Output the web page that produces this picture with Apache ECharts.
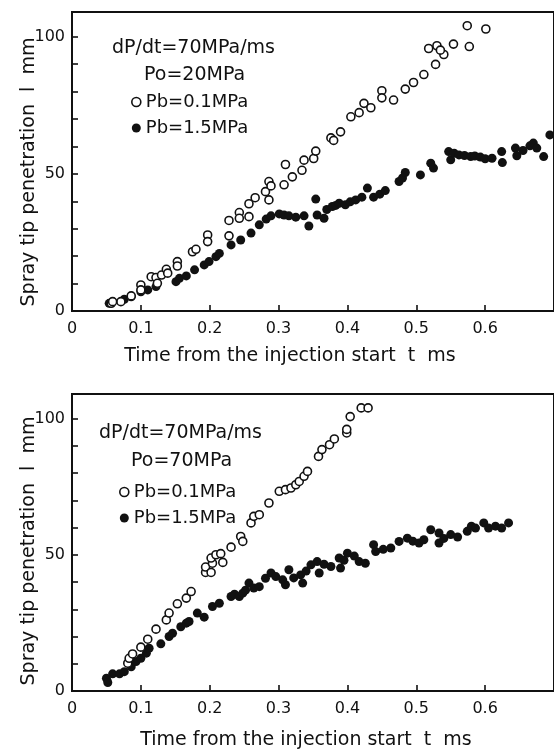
<!DOCTYPE html>
<html>
<head>
<meta charset="utf-8">
<script src="https://cdn.jsdelivr.net/npm/echarts@6/dist/echarts.min.js"></script>
<style>
html,body{margin:0;padding:0;background:#fff;}
#chart{width:554px;height:755px;}
</style>
</head>
<body>
<div id="chart"></div>
<script>
// ---- data (t [ms], penetration [mm]) ----
const topOpen = [[0.057,2.8],[0.071,3.4],[0.059,3.4],[0.086,5.5],[0.100,9.5],[0.100,7.7],[0.115,12.5],[0.122,12.2],[0.124,10.1],[0.130,13.1],[0.137,15.2],[0.139,13.8],[0.153,18.0],[0.153,16.4],[0.175,21.6],[0.180,22.5],[0.197,27.7],[0.197,25.3],[0.228,33.0],[0.228,27.4],[0.243,35.9],[0.243,33.8],[0.257,34.4],[0.257,39.1],[0.266,41.3],[0.281,43.5],[0.286,47.2],[0.289,45.6],[0.286,40.5],[0.308,46.0],[0.310,53.4],[0.320,48.9],[0.334,51.3],[0.337,55.0],[0.351,55.6],[0.354,58.3],[0.376,63.1],[0.380,62.2],[0.390,65.3],[0.405,70.8],[0.417,72.3],[0.424,75.7],[0.434,74.1],[0.450,80.3],[0.450,77.7],[0.467,76.9],[0.484,80.9],[0.496,83.3],[0.511,86.2],[0.528,89.9],[0.540,93.5],[0.518,95.7],[0.530,96.7],[0.535,95.1],[0.554,97.3],[0.574,104.0],[0.577,96.4],[0.601,102.8]];
const topFilled = [[0.054,2.8],[0.076,4.3],[0.086,5.2],[0.100,7.0],[0.110,7.7],[0.122,8.9],[0.151,10.7],[0.156,11.9],[0.166,12.8],[0.178,15.0],[0.192,16.8],[0.199,18.0],[0.209,19.8],[0.214,21.0],[0.231,24.1],[0.245,25.9],[0.260,28.4],[0.272,31.4],[0.282,33.5],[0.289,34.7],[0.301,35.4],[0.308,35.0],[0.315,34.7],[0.325,34.2],[0.337,34.7],[0.344,31.0],[0.354,40.8],[0.356,35.0],[0.366,33.8],[0.370,37.0],[0.378,38.1],[0.383,38.5],[0.388,39.3],[0.397,38.7],[0.404,39.8],[0.412,40.5],[0.421,41.5],[0.429,44.8],[0.438,41.5],[0.447,42.6],[0.455,43.9],[0.475,47.2],[0.480,48.5],[0.484,50.5],[0.506,49.6],[0.521,53.9],[0.525,52.1],[0.547,58.1],[0.550,55.1],[0.555,57.5],[0.562,56.9],[0.570,56.7],[0.579,56.3],[0.585,56.5],[0.593,56.1],[0.600,55.5],[0.610,55.7],[0.624,58.1],[0.625,54.1],[0.644,59.4],[0.646,56.6],[0.655,58.5],[0.665,60.2],[0.670,61.2],[0.675,59.4],[0.685,56.3],[0.694,64.2]];
const botOpen = [[0.081,10.2],[0.083,12.0],[0.088,13.6],[0.100,16.1],[0.110,19.0],[0.122,22.7],[0.137,26.1],[0.141,28.6],[0.153,32.0],[0.166,34.1],[0.173,36.5],[0.194,43.5],[0.194,45.5],[0.202,43.5],[0.204,46.9],[0.202,48.8],[0.209,50.0],[0.216,50.4],[0.219,47.2],[0.231,52.8],[0.245,56.7],[0.248,54.9],[0.260,61.7],[0.264,64.1],[0.272,64.7],[0.286,69.0],[0.301,73.3],[0.310,73.9],[0.318,74.5],[0.325,75.7],[0.330,76.9],[0.337,78.8],[0.342,80.6],[0.358,86.1],[0.363,88.6],[0.374,90.4],[0.381,92.5],[0.399,94.7],[0.399,96.0],[0.404,100.7],[0.420,103.9],[0.430,103.9]];
const botFilled = [[0.050,4.7],[0.052,3.1],[0.059,6.3],[0.069,6.3],[0.076,7.1],[0.086,8.9],[0.093,10.8],[0.100,12.0],[0.108,13.9],[0.112,15.7],[0.129,17.3],[0.141,20.0],[0.146,21.2],[0.158,23.6],[0.166,24.9],[0.170,25.5],[0.182,28.6],[0.192,27.1],[0.204,31.0],[0.214,32.2],[0.231,34.7],[0.236,35.5],[0.243,34.7],[0.248,35.9],[0.252,37.0],[0.257,39.6],[0.264,37.8],[0.272,38.3],[0.281,41.4],[0.289,43.3],[0.296,42.0],[0.306,40.8],[0.310,39.0],[0.315,44.5],[0.322,41.5],[0.332,42.6],[0.335,39.6],[0.340,44.0],[0.347,46.3],[0.356,47.5],[0.359,43.3],[0.366,46.5],[0.376,45.7],[0.388,48.8],[0.390,45.1],[0.395,48.0],[0.400,50.6],[0.410,49.5],[0.417,47.5],[0.426,46.9],[0.438,53.7],[0.441,51.2],[0.452,52.0],[0.463,52.5],[0.475,54.9],[0.487,56.1],[0.495,55.0],[0.504,54.3],[0.511,55.5],[0.521,59.2],[0.533,58.0],[0.533,54.3],[0.540,56.0],[0.550,57.4],[0.560,56.5],[0.574,58.6],[0.580,60.5],[0.586,59.8],[0.598,61.7],[0.605,59.8],[0.615,60.5],[0.624,59.8],[0.634,61.7]];
const xTicks = [0, 0.1, 0.2, 0.3, 0.4, 0.5, 0.6];
const yLabels = [0, 50, 100];
const headerTop = ['dP/dt=70MPa/ms', 'Po=20MPa'];
const headerBot = ['dP/dt=70MPa/ms', 'Po=70MPa'];
const seriesNames = ['Pb=0.1MPa', 'Pb=1.5MPa'];
const xTitle = 'Time from the injection start  t  ms';
const yTitle = 'Spray tip penetration  l  mm';

const FONT = '"DejaVu Sans", sans-serif';
const INK = '#111';

function xAxisCfg(gi){
  return {
    type:'value', gridIndex:gi, min:0, max:0.7, interval:0.1,
    axisLine:{show:true, onZero:false, lineStyle:{color:INK, width:2}},
    axisTick:{show:true, inside:true, length:6, lineStyle:{color:INK, width:1.6}},
    splitLine:{show:false},
    axisLabel:{color:INK, fontFamily:FONT, fontSize:16, margin:10, showMaxLabel:false,
      formatter:v=>{const r=Math.round(v*10)/10; return xTicks.includes(r)?(r===0?'0':r.toFixed(1)):'';}}
  };
}
function yAxisCfg(gi){
  return {
    type:'value', gridIndex:gi, min:0, max:109, interval:10,
    axisLine:{show:true, onZero:false, lineStyle:{color:INK, width:2}},
    axisTick:{show:true, inside:true, length:6, lineStyle:{color:INK, width:1.6}},
    splitLine:{show:false},
    axisLabel:{color:INK, fontFamily:FONT, fontSize:16, margin:7,
      formatter:v=>yLabels.includes(v)?String(v):''}
  };
}
const openStyle = {color:'#fff', borderColor:INK, borderWidth:1.6, opacity:1};
const fillStyle = {color:INK, opacity:1};
function sc(name, data, gi, open){
  return {name, type:'scatter', xAxisIndex:gi, yAxisIndex:gi, data,
    symbol:'circle', symbolSize: open?8:9, itemStyle: open?openStyle:fillStyle, z: open?3:2};
}
function legendCfg(left, top){
  return {orient:'vertical', left, top, itemGap:8, itemWidth:9, itemHeight:9, selectedMode:false,
    textStyle:{color:INK, fontFamily:FONT, fontSize:18},
    data:[{name:seriesNames[0], icon:'circle', itemStyle:openStyle},
          {name:seriesNames[1], icon:'circle', itemStyle:fillStyle}]};
}
function txt(x, y, text, size, align, rot){
  return {type:'text', x, y, rotation: rot||0, silent:true,
    style:{text, fill:INK, font: size+'px '+FONT, textAlign:align||'left', textVerticalAlign:'middle'}};
}

const chart = echarts.init(document.getElementById('chart'), null, {renderer:'canvas'});
chart.setOption({
  animation:false,
  backgroundColor:'#fff',
  grid:[
    {left:72, top:12, width:483, height:299, show:true, borderColor:INK, borderWidth:2, backgroundColor:'transparent'},
    {left:72, top:394, width:483, height:297, show:true, borderColor:INK, borderWidth:2, backgroundColor:'transparent'}
  ],
  xAxis:[xAxisCfg(0), xAxisCfg(1)],
  yAxis:[yAxisCfg(0), yAxisCfg(1)],
  legend:[legendCfg(126, 88), legendCfg(114, 478)],
  series:[
    sc(seriesNames[0], topOpen, 0, true),
    sc(seriesNames[1], topFilled, 0, false),
    sc(seriesNames[0], botOpen, 1, true),
    sc(seriesNames[1], botFilled, 1, false)
  ],
  graphic:[
    txt(112, 48, headerTop[0], 19),
    txt(144, 75, headerTop[1], 19),
    txt(99, 433, headerBot[0], 19),
    txt(131, 461, headerBot[1], 19),
    txt(290, 356, xTitle, 19, 'center'),
    txt(306, 740, xTitle, 19, 'center'),
    txt(29, 172, yTitle, 19, 'center', Math.PI/2),
    txt(29, 551, yTitle, 19, 'center', Math.PI/2)
  ]
});
</script>
</body>
</html>
